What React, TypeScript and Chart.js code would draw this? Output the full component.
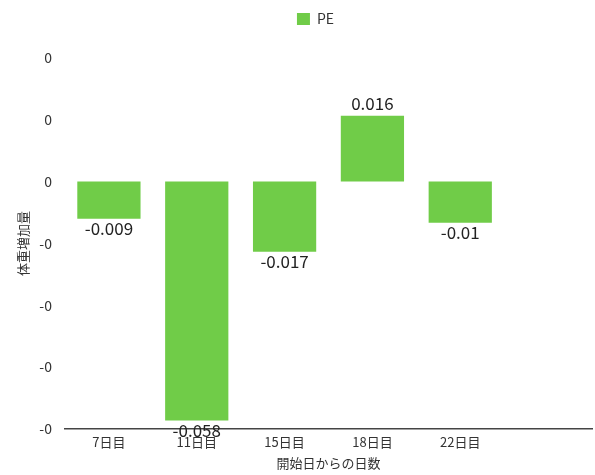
import React, { useEffect, useRef } from "react";
import { Chart, registerables } from "chart.js";

Chart.register(...registerables);

const categories = ["7日目", "11日目", "15日目", "18日目", "22日目", ""];
const peValues = [-0.009, -0.058, -0.017, 0.016, -0.01, null];
const peLabels = ["-0.009", "-0.058", "-0.017", "0.016", "-0.01", ""];
const seriesName = "PE";
const yTitle = "体重増加量";
const xTitle = "開始日からの日数";

const FONT = "'Noto Sans CJK JP', 'Noto Sans', sans-serif";

const valueLabels = {
  id: "valueLabels",
  afterDatasetsDraw(chart: any) {
    const ctx = chart.ctx;
    const meta = chart.getDatasetMeta(0);
    ctx.save();
    ctx.font = `17px ${FONT}`;
    ctx.fillStyle = "#222";
    ctx.textAlign = "center";
    meta.data.forEach((bar: any, i: number) => {
      const v = peValues[i];
      if (v === null || v === undefined) return;
      if (v < 0) {
        ctx.textBaseline = "top";
        ctx.fillText(peLabels[i], bar.x, bar.y + 1);
      } else {
        ctx.textBaseline = "bottom";
        ctx.fillText(peLabels[i], bar.x, bar.y - 4);
      }
    });
    ctx.restore();
  },
};

const legendSpacing = {
  id: "legendSpacing",
  beforeInit(chart: any) {
    const lg = chart.legend;
    if (!lg) return;
    const origFit = lg.fit;
    lg.fit = function () {
      origFit.call(this);
      this.height += 22;
    };
  },
  afterLayout(chart: any) {
    const lg = chart.legend;
    if (!lg) return;
    lg.left += 12;
    lg.right += 12;
  },
};

export default function App() {
  const ref = useRef<HTMLCanvasElement>(null);
  useEffect(() => {
    document.body.style.margin = "0";
    const chart = new Chart(ref.current!, {
      type: "bar",
      data: {
        labels: categories,
        datasets: [
          {
            label: seriesName,
            data: peValues,
            backgroundColor: "rgb(112, 204, 72)",
            borderWidth: 0,
          },
        ],
      },
      options: {
        responsive: false,
        animation: false,
        layout: { padding: { top: 2, right: 3, left: 15, bottom: 4 } },
        plugins: {
          legend: {
            labels: {
              boxWidth: 13,
              boxHeight: 12,
              color: "#333",
              font: { family: FONT, size: 14 },
              padding: 10,
            },
          },
          tooltip: { enabled: false },
        },
        scales: {
          x: {
            grid: { display: false, drawTicks: false },
            border: { display: true, color: "#444", width: 1.5 },
            ticks: { color: "#333", font: { family: FONT, size: 13 }, padding: 5 },
            title: {
              display: true,
              text: xTitle,
              color: "#333",
              font: { family: FONT, size: 13 },
              padding: { top: 1, bottom: 0 },
            },
          },
          y: {
            min: -0.06,
            max: 0.03,
            grid: { display: false, drawTicks: false },
            border: { display: false },
            ticks: {
              stepSize: 0.015,
              color: "#333",
              font: { family: FONT, size: 14 },
              padding: 13,
              callback: (v: any) => Number(v).toFixed(0),
            },
            title: {
              display: true,
              text: yTitle,
              color: "#333",
              font: { family: FONT, size: 13 },
              padding: 0,
            },
            afterFit: (s: any) => {
              s.width = 50;
            },
          },
        },
      },
      plugins: [legendSpacing, valueLabels],
    });
    return () => chart.destroy();
  }, []);
  return <canvas ref={ref} width={595} height={475} />;
}
